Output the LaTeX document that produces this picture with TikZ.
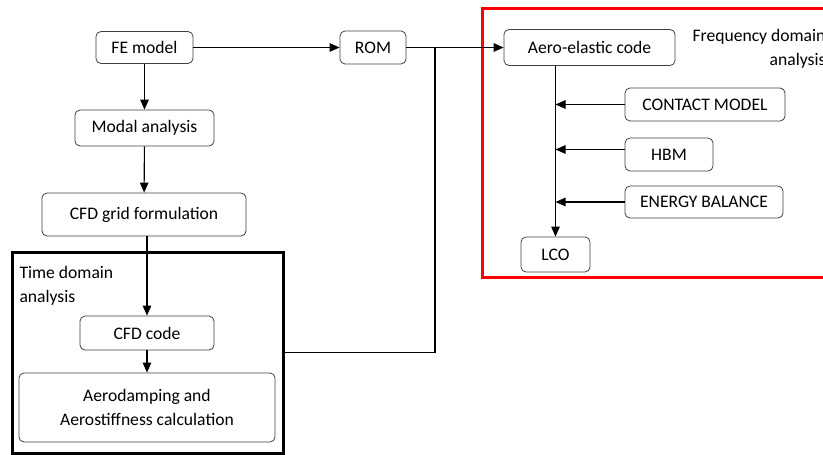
\documentclass[tikz,border=0pt]{standalone}
\usepackage{fontspec}
\setmainfont{Carlito}
\usetikzlibrary{arrows.meta}

\begin{document}
\begin{tikzpicture}
[x=1pt,y=-1pt,line width=1.1pt,>={Triangle[length=10pt,width=8.5pt]},
 every node/.style={font=\fontsize{17.6}{24}\selectfont},
 blk/.style={draw=black!75,line width=0.8pt,rounded corners=5pt,inner sep=0pt,align=center},
 frame/.style={draw,line width=3pt,inner sep=0pt}]
  \useasboundingbox (0,0) rectangle (823,455);
  \clip (0,0) rectangle (823,455);

  \node[blk,minimum width=97,minimum height=32] (fe) at (144.5,47.5)   {FE model};
  \node[blk,minimum width=139,minimum height=36] (modal) at (144.5,128)   {Modal analysis};
  \node[blk,minimum width=204,minimum height=43] (cfdgrid) at (144,214.5)   {CFD grid formulation};
  \node[blk,minimum width=66,minimum height=33] (rom) at (373,47.5)   {ROM};

  \node[frame,minimum width=271,minimum height=201] (timedom) at (147.5,352.5) {};
  \node[anchor=north west,align=left,inner sep=0pt] (timelbl) at (19,266) {Time domain\\analysis};
  \node[blk,minimum width=134,minimum height=34] (cfdcode) at (147,333)   {CFD code};
  \node[blk,minimum width=256,minimum height=69] (aerodamp) at (147,407.5)   {Aerodamping and\\Aerostiffness calculation};

  \node[frame,draw=red,minimum width=358,minimum height=269] (freqdom) at (661,142.5) {};
  \node[anchor=north east,align=right,inner sep=0pt] (freqlbl) at (826,29) {Frequency domain\\analysis};
  \node[blk,minimum width=171,minimum height=36] (aero) at (589.5,47.5)   {Aero-elastic code};
  \node[blk,minimum width=160,minimum height=33] (contact) at (705,104.5)   {CONTACT MODEL};
  \node[blk,minimum width=88,minimum height=33] (hbm) at (669,154.5)   {HBM};
  \node[blk,minimum width=158,minimum height=32] (energy) at (704,202)   {ENERGY BALANCE};
  \node[blk,minimum width=69,minimum height=35] (lco) at (555.5,254.5)   {LCO};

  \coordinate (junc) at (435,47.5);

  \foreach \from/\to in {fe/modal,modal/cfdgrid,fe/rom,rom/aero}
    \draw[->] (\from) -- (\to);

  \draw[->] (cfdgrid.south -| cfdcode) -- (cfdcode.north);
  \draw[->] (cfdcode) -- (aerodamp);
  \draw (timedom.east) -| (junc);

  \draw[->] (aero.south -| lco) -- (lco.north);
  \foreach \src in {contact,energy}
    \draw[->] (\src.west) -- (\src.west -| lco);
  \draw[->] ([yshift=5pt]hbm.west) -- ([yshift=5pt]hbm.west -| lco);
\end{tikzpicture}
\end{document}
